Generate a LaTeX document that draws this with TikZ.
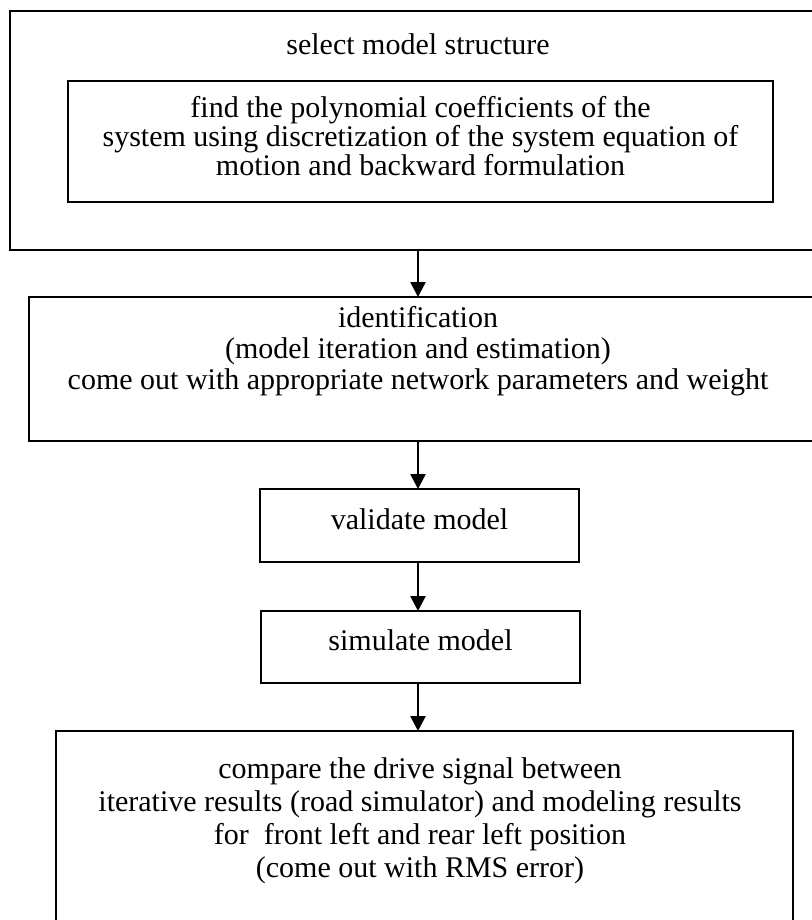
\documentclass[tikz,border=0pt]{standalone}
\usepackage{fontspec}
\setmainfont{Liberation Serif}
\usetikzlibrary{arrows.meta}
\begin{document}
\begin{tikzpicture}[x=0.5pt,y=-0.5pt,
  box/.style={draw,line width=1.3pt,rectangle,inner sep=0pt,outer sep=0pt},
  label/.style={inner sep=0pt,align=center,font=\fontsize{15pt}{15.5pt}\selectfont},
  arr/.style={line width=1.3pt,-{Triangle[width=7.5pt,length=7.5pt]}}]
\useasboundingbox (0,0) rectangle (812,920);
\begin{scope}
\clip (0,0) rectangle (812,920);
% stage 1: model structure with the polynomial step inside
\node[box,minimum width=408pt,minimum height=119.5pt] (outer) at (418,130.5) {};
\node[label] (outertext) at (418,44) {select model structure};
\node[box,minimum width=352.5pt,minimum height=60.5pt] (inner) at (420.5,141.5) {};
\node[label,font=\fontsize{15pt}{14.5pt}\selectfont] (innertext) at (420.5,136) {find the polynomial coefficients of the\\system using discretization of the system equation of\\motion and backward formulation};
% stage 2: identification
\node[box,minimum width=400.5pt,minimum height=72pt] (ident) at (429.5,369) {};
\node[label] (identtext) at (418,351) {identification\\(model iteration and estimation)\\come out with appropriate network parameters and weight};
% stage 3 and 4
\node[box,minimum width=159.5pt,minimum height=36.5pt] (valid) at (419.5,525.5) {};
\node[label] (validtext) at (419.5,519) {validate model};
\node[box,minimum width=159.5pt,minimum height=36pt] (simul) at (420.5,647) {};
\node[label] (simultext) at (420.5,640) {simulate model};
% stage 5: comparison
\node[box,minimum width=368.5pt,minimum height=102pt] (comp) at (424.5,833) {};
\node[label,font=\fontsize{15pt}{16.5pt}\selectfont] (comptext) at (420,821) {compare the drive signal between\\iterative results (road simulator) and modeling results\\for~ front left and rear left position\\(come out with RMS error)};
% connectors
\draw[arr] (outer.south) -- (outer.south |- ident.north);
\draw[arr] (outer.south |- ident.south) -- (outer.south |- valid.north);
\draw[arr] (outer.south |- valid.south) -- (outer.south |- simul.north);
\draw[arr] (outer.south |- simul.south) -- (outer.south |- comp.north);
\end{scope}
\end{tikzpicture}
\end{document}
